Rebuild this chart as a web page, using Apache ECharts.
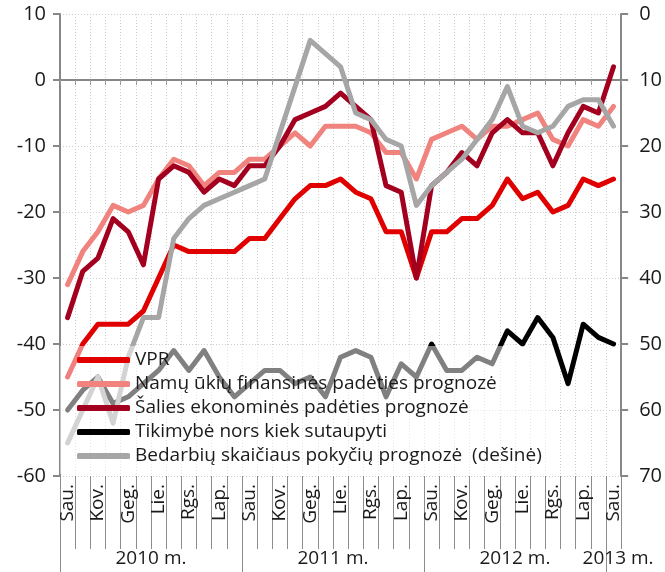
<!DOCTYPE html>
<html>
<head>
<meta charset="utf-8">
<script src="https://cdn.jsdelivr.net/npm/echarts@6/dist/echarts.min.js"></script>
<style>
html, body { margin: 0; padding: 0; background: #fff; }
#chart { width: 665px; height: 572px; }
</style>
</head>
<body>
<div id="chart"></div>
<script>
'use strict';

// month names shown on the bottom axis (every second one is printed)
var monthNames = ['Sau.', 'Vas.', 'Kov.', 'Bal.', 'Geg.', 'Bir.', 'Lie.', 'Rgp.', 'Rgs.', 'Spa.', 'Lap.', 'Gru.'];
var years = [2010, 2011, 2012];
var yearLabels = ['2010 m.', '2011 m.', '2012 m.', '2013 m.'];
var yearLabelAt = [6, 18, 30, 36.8];   // months from Jan 2010
var yearBounds = [0, 12, 24, 36];

// 2010-01 .. 2013-01
var vpr = [-45, -40, -37, -37, -37, -35, -30, -25, -26, -26, -26, -26,
    -24, -24, -21, -18, -16, -16, -15, -17, -18, -23, -23, -30,
    -23, -23, -21, -21, -19, -15, -18, -17, -20, -19, -15, -16,
    -15];
var namuUkiu = [-31, -26, -23, -19, -20, -19, -15, -12, -13, -16, -14, -14,
    -12, -12, -10, -8, -10, -7, -7, -7, -8, -11, -11, -15,
    -9, -8, -7, -9, -7, -7, -6, -5, -9, -10, -6, -7,
    -4];
var saliesEkon = [-36, -29, -27, -21, -23, -28, -15, -13, -14, -17, -15, -16,
    -13, -13, -10, -6, -5, -4, -2, -4, -6, -16, -17, -30,
    -16, -14, -11, -13, -8, -6, -8, -8, -13, -8, -4, -5,
    2];
var sutaupyti = [-50, -47, -45, -49, -48, -46, -44, -41, -44, -41, -45, -48,
    -46, -44, -44, -46, -45, -48, -42, -41, -42, -48, -43, -45,
    -40, -44, -44, -42, -43, -38, -40, -36, -39, -46, -37, -39,
    -40];
// right axis (inverted)
var bedarbiu = [65, 60, 55, 62, 52, 46, 46, 34, 31, 29, 28, 27,
    26, 25, 18, 11, 4, 6, 8, 15, 16, 19, 20, 29,
    26, 24, 22, 19, 16, 11, 17, 18, 17, 14, 13, 13,
    17];

var names = ['VPR', 'Namų ūkių finansinės padėties prognozė', 'Šalies ekonominės padėties prognozė',
    'Tikimybė nors kiek sutaupyti', 'Bedarbių skaičiaus pokyčių prognozė  (dešinė)'];
var colors = ['#e00000', '#f0837e', '#a3001f', '#000000', '#a6a6a6'];

var categories = [];
years.forEach(function (y) {
    for (var m = 0; m < 12; m++) {
        categories.push(y + '-' + (m + 1));
    }
});
categories.push('2013-1');

var font = 'Open Sans';
var axisGray = '#878787';
var gridDot = { color: '#cdcdcd', width: 1, type: [1, 2] };

function lineSeries(i, data, yIdx) {
    return {
        name: names[i],
        type: 'line',
        xAxisIndex: 0,
        yAxisIndex: yIdx,
        data: data,
        symbol: 'none',
        smooth: false,
        lineStyle: { width: 5, color: colors[i], cap: 'round', join: 'round' },
        itemStyle: { color: colors[i] }
    };
}

var myChart = echarts.init(document.getElementById('chart'));
myChart.setOption({
    animation: false,
    textStyle: { fontFamily: font },
    grid: { left: 60, right: 40, top: 14, bottom: 96 },
    legend: {
        orient: 'vertical',
        left: 60,
        top: 346,
        padding: [2, 6, 6, 17],
        itemGap: 0,
        itemWidth: 53,
        itemHeight: 6,
        icon: 'roundRect',
        backgroundColor: 'rgba(255,255,255,0.5)',
        data: names,
        textStyle: { fontFamily: font, fontSize: 19, lineHeight: 24, color: '#1a1a1a' }
    },
    xAxis: [{
        // line through zero with small ticks
        type: 'category',
        data: categories,
        boundaryGap: true,
        axisLine: { onZero: true, onZeroAxisIndex: 0, lineStyle: { color: axisGray, width: 2 } },
        axisTick: { show: true, interval: 0, length: 5, lineStyle: { color: '#9a9a9a' } },
        axisLabel: { show: false },
        splitLine: { show: true, interval: 0, lineStyle: gridDot }
    }, {
        // months
        type: 'category',
        data: categories,
        position: 'bottom',
        boundaryGap: true,
        axisLine: { show: false, onZero: false },
        axisTick: { show: true, interval: 0, length: 73, lineStyle: { color: '#8c8c8c' } },
        axisLabel: {
            interval: 1,
            rotate: 90,
            margin: 8,
            fontSize: 19,
            fontFamily: font,
            color: '#1a1a1a',
            formatter: function (value, index) {
                return monthNames[index % 12];
            }
        },
        splitLine: { show: false }
    }, {
        // years
        type: 'value',
        min: 0,
        max: 37,
        position: 'bottom',
        axisLine: { show: false, onZero: false },
        axisTick: { show: true, customValues: yearBounds, length: 96, lineStyle: { color: '#8c8c8c' } },
        axisLabel: {
            customValues: yearLabelAt,
            margin: 73,
            fontSize: 19,
            fontFamily: font,
            color: '#1a1a1a',
            formatter: function (v) {
                return yearLabels[yearLabelAt.indexOf(v)];
            }
        },
        splitLine: { show: false }
    }],
    yAxis: [{
        type: 'value',
        min: -60,
        max: 10,
        interval: 10,
        position: 'left',
        axisLine: { show: true, onZero: false, lineStyle: { color: axisGray, width: 2 } },
        axisTick: { show: true, length: 7, lineStyle: { color: axisGray, width: 2 } },
        axisLabel: { fontSize: 20, fontFamily: font, margin: 14, color: '#1a1a1a' },
        splitLine: { show: true, lineStyle: gridDot }
    }, {
        type: 'value',
        min: 0,
        max: 70,
        interval: 10,
        inverse: true,
        position: 'right',
        axisLine: { show: true, onZero: false, lineStyle: { color: axisGray, width: 2 } },
        axisTick: { show: true, length: 7, lineStyle: { color: axisGray, width: 2 } },
        axisLabel: { fontSize: 20, fontFamily: font, margin: 18, color: '#1a1a1a' },
        splitLine: { show: false }
    }],
    series: [
        lineSeries(0, vpr, 0),
        lineSeries(1, namuUkiu, 0),
        lineSeries(2, saliesEkon, 0),
        lineSeries(3, sutaupyti, 0),
        lineSeries(4, bedarbiu, 1)
    ]
});
</script>
</body>
</html>
